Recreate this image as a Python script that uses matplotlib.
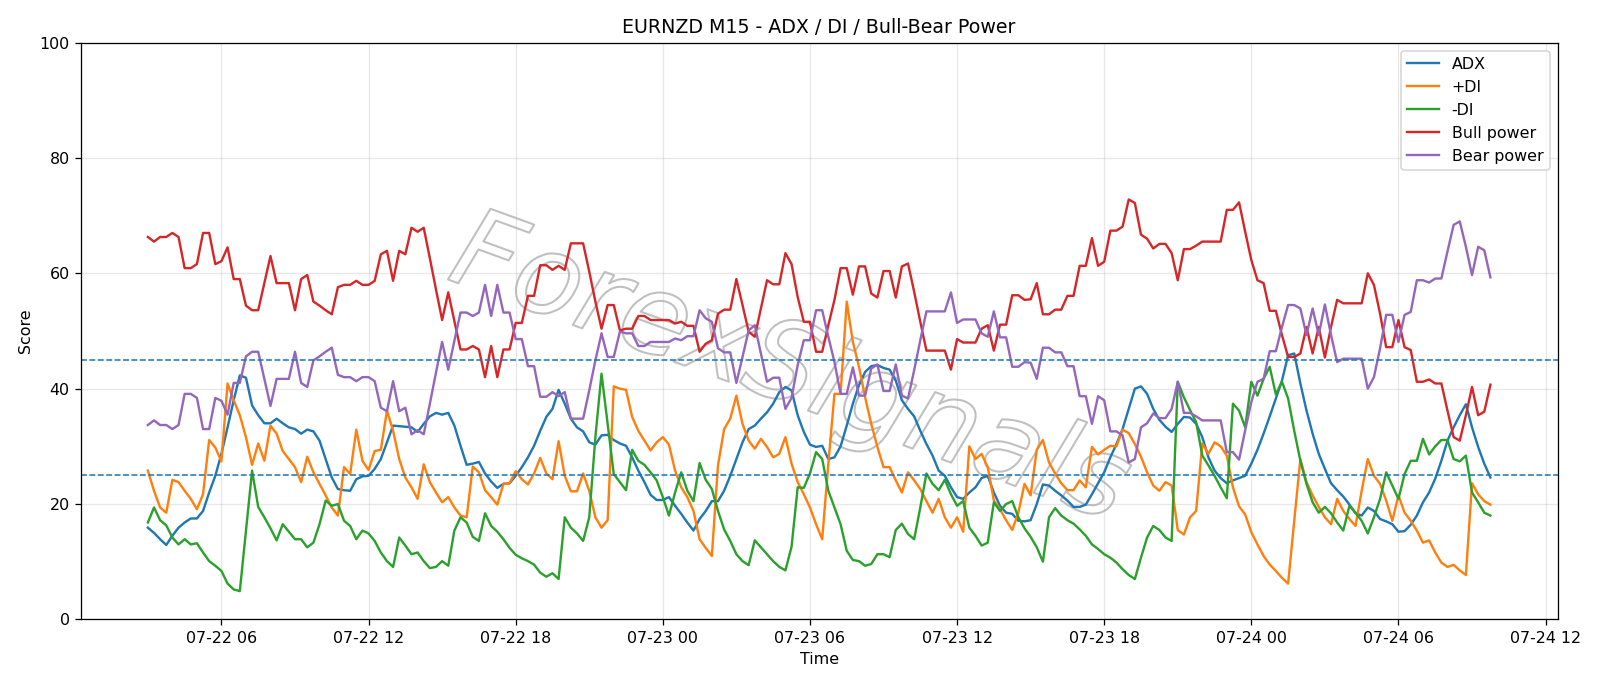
import pandas as pd
import matplotlib
matplotlib.use('Agg')
import matplotlib.pyplot as plt
import matplotlib.patheffects as pe

# 15-minute bars, 07-22 03:00 -> 07-24 09:45
times = pd.date_range('2024-07-22 03:00', periods=220, freq='15min')

adx = [
    15.9, 15.0, 13.9, 12.9, 14.5, 15.9, 16.8, 17.5, 17.5, 18.8,
    22.0, 24.9, 28.7, 33.3, 38.0, 42.3, 41.9, 37.1, 35.4, 34.0,
    34.0, 34.8, 34.0, 33.3, 33.0, 32.2, 32.9, 32.6, 31.0, 27.8,
    24.6, 22.6, 22.4, 22.3, 24.3, 24.8, 24.9, 26.1, 27.8, 30.7,
    33.6, 33.5, 33.4, 33.3, 32.5, 33.9, 35.2, 35.8, 35.5, 35.8,
    33.6, 30.1, 26.8, 27.0, 27.3, 25.3, 23.9, 22.8, 23.5, 23.6,
    24.9, 26.4, 28.1, 30.1, 32.7, 35.1, 36.5, 39.8, 37.4, 34.8,
    33.3, 32.6, 30.7, 30.3, 31.9, 32.0, 31.1, 30.5, 30.1, 28.1,
    25.8, 23.8, 21.6, 20.7, 20.7, 21.2, 19.7, 18.3, 16.8, 15.4,
    17.4, 18.8, 20.5, 20.5, 22.3, 24.9, 27.8, 30.7, 33.0, 33.6,
    34.8, 35.9, 37.4, 39.4, 40.3, 39.7, 35.4, 32.5, 30.3, 29.9,
    30.1, 27.8, 28.1, 30.0, 33.6, 37.4, 40.6, 42.9, 43.9, 44.1,
    43.6, 43.3, 41.4, 38.0, 36.5, 35.2, 32.7, 30.4, 28.4, 25.8,
    24.9, 22.9, 21.2, 20.9, 22.0, 22.9, 24.5, 24.9, 22.0, 19.7,
    18.5, 18.3, 17.1, 17.0, 17.2, 20.0, 23.4, 23.2, 22.3, 21.5,
    20.6, 19.5, 19.5, 19.9, 21.7, 23.6, 25.5, 28.1, 30.4, 33.0,
    36.5, 40.0, 40.4, 39.1, 36.5, 34.6, 33.4, 32.5, 33.9, 35.1,
    35.0, 33.9, 31.6, 28.1, 25.8, 24.5, 23.6, 24.1, 24.5, 24.9,
    27.0, 29.4, 32.2, 35.2, 38.3, 41.4, 45.8, 46.1, 40.9, 36.2,
    32.2, 28.7, 26.1, 23.6, 22.4, 21.3, 19.9, 18.4, 18.0, 19.4,
    18.8, 17.4, 17.0, 16.5, 15.2, 15.3, 16.4, 18.0, 20.3, 22.0,
    24.4, 27.5, 31.0, 33.3, 35.4, 37.3, 33.3, 29.9, 27.0, 24.6,
]

plus_di = [
    25.8, 22.3, 19.4, 18.5, 24.2, 23.8, 22.3, 20.9, 19.1, 21.7,
    31.1, 29.8, 27.4, 40.9, 38.0, 35.4, 31.6, 26.8, 30.5, 27.5,
    33.6, 32.2, 29.2, 27.8, 26.4, 23.8, 28.2, 25.5, 23.5, 21.5,
    19.4, 18.0, 26.4, 25.2, 32.9, 27.5, 25.9, 29.2, 29.4, 36.2,
    32.7, 27.8, 24.6, 22.9, 20.9, 26.9, 23.8, 22.0, 20.3, 21.2,
    19.4, 18.0, 17.7, 26.5, 25.5, 22.4, 21.2, 19.9, 23.5, 23.6,
    25.7, 24.3, 23.4, 25.3, 28.0, 25.3, 24.3, 30.9, 24.9, 22.2,
    22.2, 25.3, 22.3, 17.7, 15.9, 17.2, 40.4, 40.0, 39.8, 35.1,
    32.7, 31.0, 29.3, 30.7, 31.6, 30.3, 25.8, 22.9, 21.2, 18.8,
    13.9, 12.4, 11.0, 26.7, 33.0, 34.8, 38.8, 33.9, 31.0, 29.6,
    31.3, 29.9, 28.1, 28.7, 31.6, 27.0, 23.8, 21.7, 19.4, 16.5,
    13.9, 27.0, 39.1, 39.1, 55.1, 48.1, 43.8, 38.5, 33.9, 29.9,
    26.4, 26.4, 24.1, 22.0, 25.5, 24.1, 22.6, 20.5, 18.5, 20.9,
    17.7, 15.9, 17.7, 15.2, 30.0, 27.8, 28.7, 26.4, 20.6, 19.1,
    17.2, 15.5, 18.5, 23.5, 21.5, 29.4, 31.1, 27.2, 25.3, 23.6,
    22.4, 22.4, 24.1, 22.9, 29.9, 28.6, 29.4, 30.1, 30.0, 32.9,
    32.3, 30.4, 28.2, 25.5, 23.2, 22.3, 23.8, 23.2, 15.5, 14.7,
    17.7, 18.8, 30.5, 28.7, 30.7, 30.0, 28.4, 22.9, 19.6, 18.2,
    15.1, 13.0, 11.0, 9.5, 8.4, 7.2, 6.2, 17.1, 27.8, 23.8,
    21.5, 19.5, 17.7, 16.5, 20.9, 18.8, 17.4, 16.2, 22.3, 27.8,
    24.9, 23.5, 20.6, 17.1, 21.5, 18.5, 17.1, 15.4, 13.3, 13.7,
    11.6, 9.85, 9.1, 9.45, 8.5, 7.7, 23.6, 21.7, 20.5, 19.9,
]

minus_di = [
    16.8, 19.4, 17.2, 16.3, 14.2, 13.0, 13.9, 13.0, 13.2, 11.6,
    10.1, 9.3, 8.4, 6.2, 5.2, 4.9, 15.3, 25.8, 19.5, 17.7,
    15.8, 13.7, 16.5, 15.2, 13.9, 13.9, 12.5, 13.3, 16.5, 20.6,
    19.7, 20.0, 17.1, 16.2, 13.9, 15.4, 14.9, 13.6, 11.6, 10.1,
    9.1, 14.2, 12.8, 11.3, 11.6, 10.1, 8.9, 9.1, 10.1, 9.3,
    15.4, 17.7, 16.8, 14.3, 13.6, 18.4, 16.2, 15.2, 13.9, 12.4,
    11.2, 10.6, 10.1, 9.5, 8.1, 7.4, 8.0, 7.0, 17.7, 15.9,
    14.9, 13.6, 17.7, 31.6, 42.6, 33.9, 25.2, 23.8, 22.4, 29.4,
    27.5, 26.8, 25.5, 24.1, 21.2, 18.0, 22.0, 25.5, 22.3, 20.5,
    27.1, 24.2, 22.6, 18.8, 15.6, 13.6, 11.3, 10.1, 9.4, 13.7,
    12.5, 11.3, 10.1, 9.1, 8.5, 12.6, 22.9, 22.8, 25.3, 29.0,
    27.8, 22.3, 19.4, 16.5, 11.9, 10.3, 10.1, 9.3, 9.6, 11.3,
    11.3, 10.8, 15.5, 16.6, 14.8, 13.9, 19.4, 25.3, 23.5, 22.4,
    24.2, 21.7, 19.7, 20.5, 15.9, 14.5, 12.8, 13.3, 20.3, 18.8,
    20.0, 20.5, 17.7, 15.8, 14.3, 12.5, 10.0, 17.7, 19.3, 18.0,
    17.2, 16.6, 15.6, 14.5, 13.0, 12.2, 11.3, 10.7, 9.85, 8.7,
    7.7, 7.0, 10.7, 14.2, 16.2, 15.5, 14.2, 13.6, 41.2, 38.5,
    36.3, 34.2, 28.4, 26.7, 24.9, 22.9, 21.0, 37.4, 36.2, 33.3,
    41.2, 38.8, 41.7, 43.8, 39.0, 41.2, 38.3, 32.7, 27.5, 23.5,
    20.3, 18.5, 19.5, 18.4, 16.8, 15.4, 19.7, 18.5, 17.1, 14.9,
    17.7, 20.9, 25.5, 23.2, 20.9, 25.2, 27.5, 27.5, 31.3, 28.6,
    30.0, 31.1, 31.1, 27.8, 27.4, 28.4, 22.0, 20.3, 18.5, 18.0,
]

bull_power = [
    66.3, 65.5, 66.3, 66.3, 67.0, 66.3, 60.9, 60.9, 61.6, 67.0,
    67.0, 61.6, 62.1, 64.5, 59.0, 59.0, 54.4, 53.6, 53.6, 58.3,
    63.0, 58.3, 58.3, 58.3, 53.6, 59.0, 59.7, 55.1, 54.4, 53.6,
    52.9, 57.6, 58.0, 58.0, 58.7, 58.0, 58.0, 58.7, 63.3, 63.9,
    58.7, 63.9, 63.3, 67.9, 67.2, 67.9, 62.6, 57.2, 51.9, 56.7,
    51.7, 46.8, 46.8, 47.4, 46.8, 42.0, 47.4, 42.0, 46.8, 46.8,
    51.4, 51.4, 56.1, 56.1, 61.4, 61.4, 60.6, 61.3, 60.6, 65.2,
    65.2, 65.2, 60.3, 55.1, 50.4, 54.5, 54.5, 50.1, 50.4, 50.4,
    52.6, 52.6, 51.9, 51.9, 51.9, 51.9, 51.3, 51.6, 50.9, 50.9,
    46.4, 47.8, 48.4, 53.0, 53.7, 53.7, 59.0, 54.5, 49.9, 49.0,
    53.9, 58.8, 58.1, 58.1, 63.5, 61.6, 55.9, 51.6, 51.6, 46.4,
    46.4, 51.0, 55.4, 60.9, 60.9, 56.3, 61.2, 61.2, 56.5, 55.8,
    60.4, 60.4, 55.8, 61.2, 61.7, 56.8, 51.6, 46.6, 46.6, 46.6,
    46.6, 43.3, 48.6, 48.0, 48.0, 48.0, 50.4, 51.0, 46.6, 51.1,
    51.1, 56.2, 56.2, 55.4, 55.5, 58.3, 52.9, 52.9, 53.7, 53.7,
    56.1, 56.1, 61.3, 61.3, 66.1, 61.3, 62.0, 67.4, 67.4, 68.1,
    72.8, 72.2, 66.7, 66.0, 64.3, 65.1, 65.1, 63.5, 58.8, 64.2,
    64.2, 64.8, 65.5, 65.5, 65.5, 65.5, 71.0, 71.0, 72.3, 67.2,
    62.3, 58.8, 58.3, 53.5, 53.5, 49.3, 45.5, 45.5, 46.1, 50.7,
    46.1, 50.7, 45.4, 50.7, 55.4, 54.8, 54.8, 54.8, 54.8, 60.0,
    58.0, 53.0, 47.2, 47.2, 51.9, 47.2, 46.7, 41.2, 41.2, 41.6,
    40.9, 40.9, 36.2, 31.6, 31.0, 35.4, 40.3, 35.4, 36.0, 40.7,
]

bear_power = [
    33.7, 34.5, 33.7, 33.7, 33.0, 33.7, 39.1, 39.1, 38.4, 33.0,
    33.0, 38.4, 37.9, 35.5, 41.0, 41.0, 45.6, 46.4, 46.4, 41.7,
    37.0, 41.7, 41.7, 41.7, 46.4, 41.0, 40.3, 44.9, 45.6, 46.4,
    47.1, 42.4, 42.0, 42.0, 41.3, 42.0, 42.0, 41.3, 36.7, 36.1,
    41.3, 36.1, 36.7, 32.1, 32.8, 32.1, 37.4, 42.8, 48.1, 43.3,
    48.3, 53.2, 53.2, 52.6, 53.2, 58.0, 52.6, 58.0, 53.2, 53.2,
    48.6, 48.6, 43.9, 43.9, 38.6, 38.6, 39.4, 38.7, 39.4, 34.8,
    34.8, 34.8, 39.7, 44.9, 49.6, 45.5, 45.5, 49.9, 49.6, 49.6,
    47.4, 47.4, 48.1, 48.1, 48.1, 48.1, 48.7, 48.4, 49.1, 49.1,
    53.6, 52.2, 51.6, 47.0, 46.3, 46.3, 41.0, 45.5, 50.1, 51.0,
    46.1, 41.2, 41.9, 41.9, 36.5, 38.4, 44.1, 48.4, 48.4, 53.6,
    53.6, 49.0, 44.6, 39.1, 39.1, 43.7, 38.8, 38.8, 43.5, 44.2,
    39.6, 39.6, 44.2, 38.8, 38.3, 43.2, 48.4, 53.4, 53.4, 53.4,
    53.4, 56.7, 51.4, 52.0, 52.0, 52.0, 49.6, 49.0, 53.4, 48.9,
    48.9, 43.8, 43.8, 44.6, 44.5, 41.7, 47.1, 47.1, 46.3, 46.3,
    43.9, 43.9, 38.7, 38.7, 33.9, 38.7, 38.0, 32.6, 32.6, 31.9,
    27.2, 27.8, 33.3, 34.0, 35.7, 34.9, 34.9, 36.5, 41.2, 35.8,
    35.8, 35.2, 34.5, 34.5, 34.5, 34.5, 29.0, 29.0, 27.7, 32.8,
    37.7, 41.2, 41.7, 46.5, 46.5, 50.7, 54.5, 54.5, 53.9, 49.3,
    53.9, 49.3, 54.6, 49.3, 44.6, 45.2, 45.2, 45.2, 45.2, 40.0,
    42.0, 47.0, 52.8, 52.8, 48.1, 52.8, 53.3, 58.8, 58.8, 58.4,
    59.1, 59.1, 63.8, 68.4, 69.0, 64.6, 59.7, 64.6, 64.0, 59.3,
]

fig, ax = plt.subplots(figsize=(14, 6.003))

ax.plot(times, adx, label='ADX')
ax.plot(times, plus_di, label='+DI')
ax.plot(times, minus_di, label='-DI')
ax.plot(times, bull_power, label='Bull power')
ax.plot(times, bear_power, label='Bear power')

ax.axhline(25, color='tab:blue', linestyle='--', linewidth=1)
ax.axhline(45, color='tab:blue', linestyle='--', linewidth=1)

ax.set_ylim(0, 100)
ax.set_title('EURNZD M15 - ADX / DI / Bull-Bear Power')
ax.set_xlabel('Time')
ax.set_ylabel('Score')
ax.grid(True, alpha=0.3)
ax.legend(loc='upper right')

# watermark, hollow letters
ax.text(0.48, 0.43, 'ForexSignals', transform=ax.transAxes, fontsize=70,
        family='DejaVu Sans', style='italic', color='none',
        rotation=-20, ha='center', va='center', zorder=0,
        path_effects=[pe.withStroke(linewidth=1.3, foreground='#c0c0c0')])

plt.tight_layout()
plt.savefig('out.png', dpi=1600 / 14)
